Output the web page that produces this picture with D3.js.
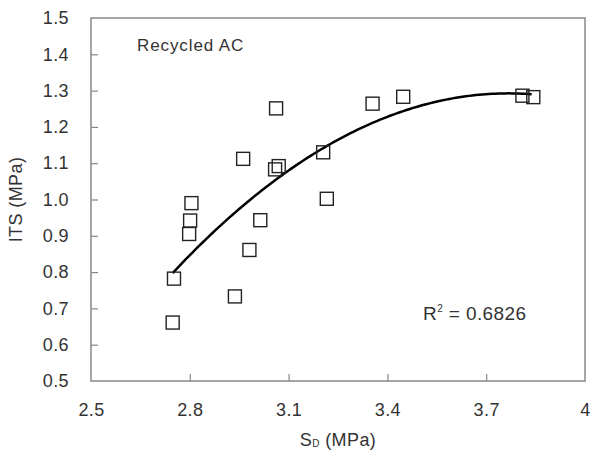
<!DOCTYPE html>
<html>
<head>
<meta charset="utf-8">
<script src="https://cdn.jsdelivr.net/npm/d3@7"></script>
<style>
	body { margin: 0; background: #fff; }
	text { font-family: "Liberation Sans", Arial, sans-serif; fill: #333; }
</style>
</head>
<body>
<script>
// scatter data
const sdValues = [2.748, 2.752, 2.798, 2.801, 2.805, 2.937, 2.962, 2.981, 3.014, 3.059, 3.062, 3.070, 3.205, 3.216, 3.355, 3.448, 3.810, 3.843];
const itsValues = [0.661, 0.782, 0.905, 0.942, 0.990, 0.733, 1.112, 0.861, 0.943, 1.083, 1.251, 1.092, 1.130, 1.002, 1.264, 1.283, 1.286, 1.282];
const xTicks = [2.5, 2.8, 3.1, 3.4, 3.7, 4];
const yTicks = [0.5, 0.6, 0.7, 0.8, 0.9, 1.0, 1.1, 1.2, 1.3, 1.4, 1.5];

const w = 592;
const h = 451;
const margin = { left: 91, right: 7, top: 18, bottom: 70 };

const svg = d3.select("body").append("svg").attr("width", w).attr("height", h);

const xScale = d3.scaleLinear().domain([2.5, 4]).range([margin.left, w - margin.right]);
const yScale = d3.scaleLinear().domain([0.5, 1.5]).range([h - margin.bottom, margin.top]);

// frame
svg.append("rect")
	.attr("x", xScale(2.5))
	.attr("y", yScale(1.5))
	.attr("width", xScale(4) - xScale(2.5))
	.attr("height", yScale(0.5) - yScale(1.5))
	.attr("fill", "none")
	.attr("stroke", "#888")
	.attr("stroke-width", 1.5);

// axes with inward ticks
const xAxis = d3.axisBottom(xScale).tickValues(xTicks).tickSize(-7).tickPadding(22)
	.tickFormat((d) => (d === 4 ? "4" : d3.format(".1f")(d)));
const yAxis = d3.axisLeft(yScale).tickValues(yTicks).tickSize(-7).tickPadding(22)
	.tickFormat(d3.format(".1f"));

const gx = svg.append("g").attr("transform", `translate(0, ${yScale(0.5)})`).call(xAxis);
const gy = svg.append("g").attr("transform", `translate(${xScale(2.5)}, 0)`).call(yAxis);

[gx, gy].forEach((g) => {
	g.select(".domain").remove();
	g.selectAll(".tick line").attr("stroke", "#888").attr("stroke-width", 1.2);
	g.selectAll(".tick text").style("font-size", "18px").style("letter-spacing", "0.4px").attr("fill", "#333");
});
gx.selectAll(".tick line").filter((d) => d === 2.5 || d === 4).remove();
gy.selectAll(".tick line").filter((d) => d === 0.5 || d === 1.5).remove();

// polynomial (2nd order) least squares trend from the data
function polyFit(xs, ys) {
	const n = xs.length;
	let s = [0, 0, 0, 0, 0], t = [0, 0, 0];
	for (let i = 0; i < n; i++) {
		for (let k = 0; k < 5; k++) s[k] += Math.pow(xs[i], k);
		for (let k = 0; k < 3; k++) t[k] += ys[i] * Math.pow(xs[i], k);
	}
	const m = [[s[0], s[1], s[2], t[0]], [s[1], s[2], s[3], t[1]], [s[2], s[3], s[4], t[2]]];
	for (let i = 0; i < 3; i++) {
		for (let j = i + 1; j < 3; j++) {
			const f = m[j][i] / m[i][i];
			for (let k = i; k < 4; k++) m[j][k] -= f * m[i][k];
		}
	}
	const c = [0, 0, 0];
	for (let i = 2; i >= 0; i--) {
		let v = m[i][3];
		for (let k = i + 1; k < 3; k++) v -= m[i][k] * c[k];
		c[i] = v / m[i][i];
	}
	return c;
}
const coef = polyFit(sdValues, itsValues);
const trendX = d3.range(d3.min(sdValues), d3.max(sdValues) + 0.001, 0.01);
const line = d3.line()
	.x((d) => xScale(d))
	.y((d) => yScale(coef[0] + coef[1] * d + coef[2] * d * d));

svg.append("path")
	.datum(trendX)
	.attr("d", line)
	.attr("fill", "none")
	.attr("stroke", "#000")
	.attr("stroke-width", 2.5);

// square markers
const sz = 13;
svg.selectAll("rect.pt")
	.data(sdValues)
	.enter()
	.append("rect")
	.attr("class", "pt")
	.attr("x", (d) => xScale(d) - sz / 2)
	.attr("y", (d, i) => yScale(itsValues[i]) - sz / 2)
	.attr("width", sz)
	.attr("height", sz)
	.attr("fill", "none")
	.attr("stroke", "#222")
	.attr("stroke-width", 1.4);

// labels
svg.append("text")
	.attr("x", 137)
	.attr("y", 51)
	.style("font-size", "17px")
	.style("letter-spacing", "0.9px")
	.text("Recycled AC");

const r2 = svg.append("text")
	.attr("x", 423)
	.attr("y", 320)
	.style("font-size", "19px")
	.style("letter-spacing", "0.4px");
r2.append("tspan").text("R");
r2.append("tspan").attr("dy", -8).style("font-size", "10px").text("2");
r2.append("tspan").attr("dy", 8).text(" = 0.6826");

const xl = svg.append("text")
	.attr("x", (xScale(2.5) + xScale(4)) / 2)
	.attr("y", 446)
	.attr("text-anchor", "middle")
	.style("font-size", "18px")
	.style("letter-spacing", "0.4px");
xl.append("tspan").text("S");
xl.append("tspan").attr("dy", 1).style("font-size", "10px").text("D");
xl.append("tspan").attr("dy", -1).text("  (MPa)");

svg.append("text")
	.attr("transform", `translate(22, ${(yScale(0.5) + yScale(1.5)) / 2}) rotate(-90)`)
	.attr("text-anchor", "middle")
	.style("font-size", "18px")
	.style("letter-spacing", "0.4px")
	.text("ITS (MPa)");
</script>
</body>
</html>
